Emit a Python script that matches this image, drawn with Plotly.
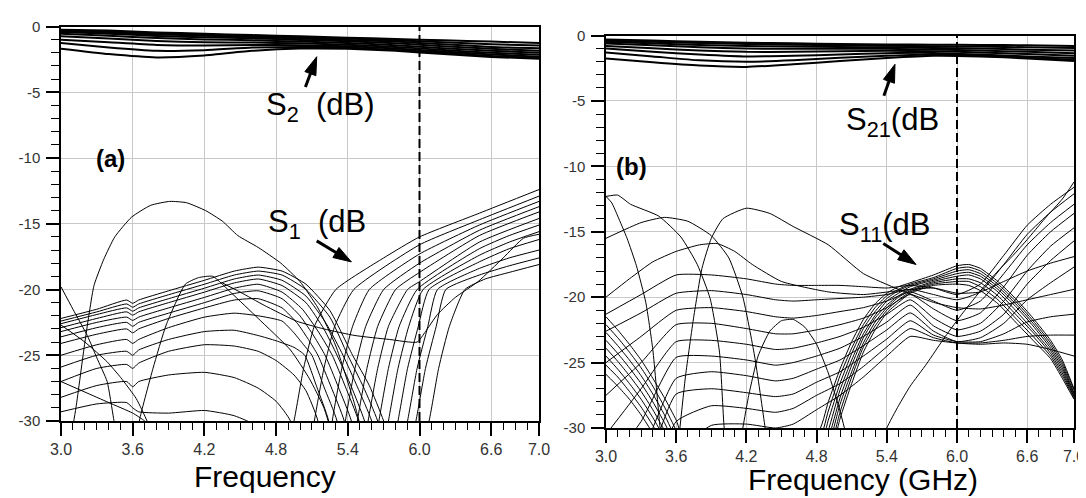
import plotly.graph_objects as go

W, H = 1086, 498

# ---------------- tick labels ----------------
X_TICKS = [3.0, 3.6, 4.2, 4.8, 5.4, 6.0, 6.6, 7.0]
X_TICK_TEXT = ["3.0", "3.6", "4.2", "4.8", "5.4", "6.0", "6.6", "7.0"]
Y_TICKS = [0, -5, -10, -15, -20, -25, -30]
Y_TICK_TEXT = ["0", "-5", "-10", "-15", "-20", "-25", "-30"]

# ---------------- S21 bundles ----------------
S21_FREQ = [3.0, 3.4, 3.8, 4.2, 4.6, 5.0, 5.4, 5.8, 6.2, 6.6, 7.0]
A_S21 = [
    [-0.24, -0.3, -0.45, -0.55, -0.65, -0.75, -0.85, -0.95, -1.05, -1.15, -1.25],
    [-0.3, -0.38, -0.52, -0.62, -0.72, -0.82, -0.92, -1.05, -1.2, -1.35, -1.45],
    [-0.36, -0.45, -0.6, -0.7, -0.8, -0.92, -1.02, -1.15, -1.35, -1.55, -1.65],
    [-0.42, -0.55, -0.72, -0.82, -0.9, -1.02, -1.12, -1.28, -1.5, -1.7, -1.85],
    [-0.55, -0.7, -0.88, -0.98, -1.05, -1.15, -1.25, -1.42, -1.65, -1.85, -2.0],
    [-0.75, -0.92, -1.1, -1.2, -1.22, -1.28, -1.38, -1.55, -1.78, -2.0, -2.15],
    [-1.0, -1.2, -1.4, -1.45, -1.4, -1.42, -1.5, -1.68, -1.9, -2.12, -2.3],
    [-1.25, -1.6, -1.85, -1.8, -1.6, -1.55, -1.6, -1.78, -2.0, -2.25, -2.4],
    [-1.69, -2.1, -2.35, -2.2, -1.85, -1.68, -1.7, -1.85, -2.1, -2.32, -2.45],
]
B_S21 = [
    [-0.3, -0.38, -0.48, -0.55, -0.6, -0.65, -0.68, -0.7, -0.72, -0.75, -0.8],
    [-0.4, -0.48, -0.58, -0.65, -0.7, -0.75, -0.78, -0.82, -0.85, -0.9, -0.95],
    [-0.5, -0.6, -0.72, -0.8, -0.85, -0.88, -0.9, -0.95, -1.0, -1.08, -1.15],
    [-0.62, -0.75, -0.9, -1.0, -1.02, -1.02, -1.02, -1.07, -1.15, -1.25, -1.35],
    [-0.8, -0.98, -1.15, -1.25, -1.25, -1.2, -1.17, -1.2, -1.3, -1.42, -1.55],
    [-1.0, -1.25, -1.45, -1.6, -1.55, -1.45, -1.35, -1.33, -1.45, -1.6, -1.72],
    [-1.3, -1.6, -1.9, -2.0, -1.9, -1.7, -1.55, -1.45, -1.55, -1.7, -1.85],
    [-1.75, -2.05, -2.3, -2.4, -2.2, -1.95, -1.72, -1.55, -1.6, -1.75, -1.95],
]

# ---------------- panel (a) S11 family ----------------
A_FAM_LEFT_F = [3.0, 3.3, 3.55, 3.6, 3.65, 3.9, 4.2, 4.45, 4.65]
A_FAM_LEFT_V = [
    [-22.2, -21.5, -20.8, -21.05, -20.8, -20.1, -19.3, -18.6, -18.3],
    [-22.4, -21.7, -21.1, -21.35, -21.1, -20.4, -19.6, -18.9, -18.6],
    [-22.6, -21.9, -21.4, -21.65, -21.4, -20.7, -19.9, -19.2, -18.9],
    [-22.9, -22.2, -21.7, -21.95, -21.7, -21.0, -20.2, -19.5, -19.2],
    [-23.2, -22.5, -22.1, -22.35, -22.1, -21.4, -20.6, -19.9, -19.6],
    [-23.6, -22.9, -22.5, -22.8, -22.5, -21.8, -21.0, -20.3, -20.1],
    [-24.1, -23.4, -23.0, -23.3, -23.0, -22.2, -21.4, -20.8, -20.7],
    [-25.0, -24.2, -23.8, -24.1, -23.8, -22.9, -22.1, -21.8, -22.0],
    [-25.9, -25.0, -24.7, -25.0, -24.6, -23.8, -23.2, -23.1, -23.5],
    [-27.0, -26.0, -25.7, -26.0, -25.6, -24.7, -24.2, -24.3, -24.7],
    [-28.2, -27.3, -27.0, -27.4, -27.0, -26.5, -26.3, -26.7, -27.5],
    [-29.3, -28.7, -28.6, -29.0, -29.3, -29.4, -29.2, -29.6, -30.5],
]
A_FAM_RIGHT_F = [
    [4.85, 5.05, 5.25, 5.44, 5.58, 5.7, 5.9, 6.08, 6.16, 6.25, 6.38, 6.55, 6.75, 7.0],
    [4.85, 5.05, 5.25, 5.4, 5.53, 5.65, 5.82, 5.97, 6.05, 6.14, 6.22, 6.5, 6.75, 7.0],
    [4.85, 5.05, 5.22, 5.36, 5.48, 5.6, 5.76, 5.9, 5.98, 6.07, 6.15, 6.5, 6.75, 7.0],
    [4.85, 5.05, 5.2, 5.31, 5.43, 5.54, 5.69, 5.82, 5.9, 5.99, 6.08, 6.5, 6.75, 7.0],
    [4.85, 5.02, 5.16, 5.27, 5.38, 5.49, 5.62, 5.74, 5.82, 5.91, 6.03, 6.5, 6.75, 7.0],
    [4.85, 5.0, 5.12, 5.21, 5.32, 5.43, 5.55, 5.66, 5.74, 5.83, 5.98, 6.5, 6.75, 7.0],
    [4.85, 4.98, 5.07, 5.15, 5.26, 5.37, 5.47, 5.57, 5.65, 5.74, 5.9, 6.0, 6.5, 7.0],
    [4.85, 4.95, 5.03, 5.1, 5.2, 5.31, 5.4, 5.48, 5.56, 5.65, 5.8, 6.0, 6.5, 7.0],
    [4.8, 4.95, 5.04, 5.14, 5.24, 5.31, 5.38, 5.46, 5.55, 5.7, 6.0, 6.5, 7.0],
    [4.8, 4.95, 5.05, 5.15, 5.21, 5.27, 5.35, 5.44, 5.58, 6.0, 6.5, 7.0],
    [4.8, 4.92, 5.02, 5.12, 5.2, 5.29, 5.45, 6.0, 6.5, 7.0],
    [4.8, 4.95, 5.03, 5.12, 5.3, 5.7, 6.0, 6.5, 7.0],
]
A_FAM_RIGHT_V = [
    [-18.6, -19.6, -21.6, -25.0, -27.3, -30.0, -36.0, -30.0, -26.0, -22.8, -20.0, -19.2, -18.7, -18.1],
    [-18.9, -20.0, -22.1, -25.0, -27.4, -30.0, -36.0, -30.0, -26.0, -22.8, -20.0, -18.9, -18.2, -17.6],
    [-19.3, -20.5, -22.6, -25.0, -27.4, -30.0, -36.0, -30.0, -26.0, -22.8, -20.0, -18.4, -17.6, -17.0],
    [-19.7, -21.0, -23.0, -25.0, -27.4, -30.0, -36.0, -30.0, -26.0, -22.8, -20.0, -17.9, -16.9, -16.2],
    [-20.2, -21.5, -23.3, -25.0, -27.4, -30.0, -36.0, -30.0, -26.0, -22.8, -20.0, -17.4, -16.4, -15.6],
    [-20.7, -22.0, -23.6, -25.0, -27.4, -30.0, -36.0, -30.0, -26.0, -22.8, -20.0, -16.9, -15.9, -15.1],
    [-21.4, -22.6, -23.8, -25.0, -27.4, -30.0, -36.0, -30.0, -26.0, -22.8, -20.0, -19.4, -16.4, -14.6],
    [-22.4, -23.3, -24.2, -25.0, -27.4, -30.0, -36.0, -30.0, -26.0, -22.8, -20.0, -18.7, -15.9, -14.1],
    [-23.9, -24.4, -25.0, -27.4, -30.0, -36.0, -30.0, -26.0, -22.8, -20.0, -18.0, -15.5, -13.7],
    [-25.4, -26.5, -27.7, -30.0, -36.0, -30.0, -26.0, -22.8, -20.0, -17.3, -15.1, -13.3],
    [-28.5, -30.0, -36.0, -30.0, -26.0, -22.8, -20.0, -16.6, -14.7, -12.9],
    [-36.0, -30.0, -26.0, -22.8, -20.0, -17.6, -16.0, -14.2, -12.4],
]

# other panel (a) S11 traces
A_ARC1_F = [3.05, 3.125, 3.2, 3.276, 3.358, 3.45, 3.59, 3.75, 3.91, 4.05, 4.21, 4.35, 4.48, 4.65, 4.84, 5.0, 5.15, 5.3, 5.45, 5.55]
A_ARC1_V = [-33.0, -29.0, -24.0, -19.7, -17.7, -16.0, -14.5, -13.6, -13.3, -13.4, -14.0, -14.8, -15.9, -16.8, -18.0, -19.4, -21.4, -24.3, -28.5, -32.0]
A_ARC2_F = [3.62, 3.66, 3.77, 3.88, 4.04, 4.15, 4.27, 4.43, 4.65, 4.92, 5.08, 5.2, 5.3]
A_ARC2_V = [-32.0, -29.8, -26.0, -22.7, -19.6, -19.1, -19.0, -20.3, -22.2, -24.6, -26.8, -29.0, -32.0]
A_D_F = [3.0, 3.1, 3.22, 3.3, 3.386, 3.44, 3.5]
A_D_V = [-19.8, -21.5, -23.5, -25.2, -27.0, -29.8, -33.0]
A_E_F = [3.0, 3.2, 3.386, 3.5, 3.63, 3.72, 3.8]
A_E_V = [-22.7, -24.0, -25.5, -26.7, -28.3, -30.0, -32.0]
A_G_F = [4.35, 4.5, 4.7, 4.97, 5.2, 5.46, 5.75, 5.98, 6.05, 6.15, 6.3, 6.49, 6.7, 6.87, 7.0]
A_G_V = [-19.5, -20.2, -21.2, -22.4, -23.0, -23.5, -23.8, -24.0, -23.2, -21.9, -20.6, -19.4, -17.6, -16.1, -15.8]
A_H_F = [3.0, 3.2, 3.4, 3.6, 3.7, 3.8]
A_H_V = [-27.0, -27.8, -28.6, -29.4, -30.0, -31.0]

# ---------------- panel (b) S11 ----------------
B_P_LEFT_F = [3.0, 3.1, 3.2, 3.3, 3.4, 3.5, 3.6, 3.7]
B_P_LEFT_V = [
    [-21.5, -22.5, -23.6, -24.8, -26.2, -27.7, -29.4, -31.5],
    [-22.1, -23.1, -24.2, -25.4, -26.8, -28.4, -30.2, -32.5],
    [-22.7, -23.7, -24.8, -26.0, -27.4, -29.0, -30.9, -33.0],
    [-23.3, -24.3, -25.4, -26.6, -28.0, -29.6, -31.5, -33.5],
    [-23.9, -24.9, -26.0, -27.2, -28.6, -30.2, -32.1, -34.0],
    [-24.5, -25.5, -26.6, -27.8, -29.2, -30.8, -32.7, -34.5],
    [-25.2, -26.1, -27.2, -28.4, -29.8, -31.4, -33.3, -35.0],
    [-25.9, -26.8, -27.8, -29.0, -30.4, -32.0, -33.9, -35.5],
]
B_P_RIGHT_F = [4.8, 4.9, 5.0, 5.1, 5.2, 5.3, 5.4, 5.5, 5.6, 5.8, 6.0, 6.1, 6.2, 6.35, 6.5, 6.65, 6.8, 6.9, 7.0]
B_P_RIGHT_V = [
    [-30.5, -28.0, -25.5, -23.4, -21.7, -20.5, -19.7, -19.2, -18.9, -18.3, -17.6, -17.5, -17.8, -18.8, -20.1, -21.6, -23.3, -24.8, -27.0],
    [-31.3, -28.7, -26.0, -23.9, -22.1, -20.8, -19.9, -19.4, -19.0, -18.5, -17.8, -17.7, -18.0, -19.0, -20.3, -21.8, -23.5, -25.0, -27.1],
    [-32.1, -29.4, -26.6, -24.3, -22.4, -21.1, -20.1, -19.5, -19.1, -18.6, -18.0, -17.9, -18.2, -19.2, -20.5, -22.0, -23.7, -25.2, -27.3],
    [-32.9, -30.2, -27.1, -24.8, -22.8, -21.4, -20.3, -19.7, -19.2, -18.7, -18.2, -18.1, -18.4, -19.4, -20.7, -22.2, -23.9, -25.4, -27.4],
    [-33.6, -30.9, -27.7, -25.2, -23.1, -21.6, -20.6, -19.9, -19.4, -18.8, -18.4, -18.3, -18.6, -19.6, -21.0, -22.5, -24.1, -25.6, -27.5],
    [-34.4, -31.6, -28.2, -25.7, -23.5, -21.9, -20.8, -20.0, -19.5, -18.9, -18.6, -18.6, -18.9, -19.9, -21.3, -22.7, -24.3, -25.8, -27.6],
    [-35.2, -32.3, -28.8, -26.1, -23.8, -22.2, -21.0, -20.2, -19.6, -19.0, -18.8, -18.8, -19.2, -20.2, -21.6, -23.0, -24.5, -26.0, -27.7],
    [-36.0, -33.0, -29.3, -26.6, -24.2, -22.5, -21.2, -20.4, -19.7, -19.1, -19.0, -19.1, -19.5, -20.5, -21.9, -23.3, -24.7, -26.2, -27.8],
]
B_W_F = [3.0, 3.3, 3.6, 3.9, 4.2, 4.45, 4.6, 4.8, 5.0, 5.2, 5.4, 5.6, 5.8, 6.0, 6.2, 6.4, 6.6, 6.8, 7.0]
B_W_V = [
    [-21.3, -19.8, -18.3, -18.3, -18.6, -19.0, -19.1, -19.1, -19.1, -19.2, -19.3, -19.1, -19.3, -19.8, -19.0, -16.8, -14.5, -12.9, -11.6],
    [-22.6, -21.2, -19.7, -19.5, -19.8, -20.2, -20.3, -20.2, -20.1, -20.0, -19.8, -19.4, -19.8, -20.2, -19.6, -17.5, -15.2, -13.5, -12.1],
    [-25.0, -23.0, -21.0, -20.8, -21.1, -21.5, -21.6, -21.4, -21.1, -20.8, -20.3, -19.6, -20.3, -21.0, -20.3, -18.2, -16.0, -14.3, -12.9],
    [-27.5, -25.0, -22.1, -22.0, -22.4, -22.8, -22.8, -22.5, -22.1, -21.6, -20.8, -19.8, -20.9, -21.8, -21.2, -19.2, -16.8, -15.0, -13.6],
    [-30.5, -27.0, -23.4, -23.3, -23.6, -24.0, -23.9, -23.5, -23.0, -22.3, -21.3, -20.2, -21.6, -22.5, -22.0, -20.3, -18.0, -16.1, -14.7],
    [-33.0, -29.5, -24.6, -24.5, -24.8, -25.2, -25.0, -24.5, -23.9, -23.0, -21.9, -20.6, -22.2, -23.0, -22.6, -21.3, -19.0, -17.2, -15.7],
    [-35.0, -32.0, -26.2, -25.7, -26.0, -26.4, -26.2, -25.5, -24.8, -23.7, -22.5, -21.2, -22.6, -23.4, -23.1, -22.0, -20.2, -18.9, -17.7],
    [-37.0, -34.0, -27.4, -27.0, -27.3, -27.6, -27.4, -26.5, -25.7, -24.5, -23.2, -21.8, -22.9, -23.4, -23.4, -22.8, -21.9, -21.5, -21.3],
    [-38.0, -36.0, -29.5, -28.3, -28.5, -28.8, -28.5, -27.5, -26.6, -25.3, -23.8, -22.4, -23.1, -23.5, -23.6, -23.5, -23.6, -24.0, -24.5],
    [-40.0, -38.0, -32.0, -29.8, -29.7, -30.0, -29.7, -28.6, -27.5, -26.1, -24.5, -23.0, -23.3, -23.5, -23.5, -23.3, -23.0, -22.9, -22.9],
]
B_T1_F = [3.0, 3.05, 3.1, 3.18, 3.26, 3.34, 3.4, 3.46, 3.5]
B_T1_V = [-12.3, -12.8, -13.8, -15.5, -17.6, -20.4, -24.0, -29.8, -33.0]
B_T2_F = [3.0, 3.1, 3.21, 3.45, 3.64, 3.78, 3.89, 3.97, 4.01, 4.05]
B_T2_V = [-12.3, -12.2, -12.9, -13.8, -15.4, -17.5, -20.1, -24.2, -30.0, -33.0]
B_T3_F = [3.0, 3.3, 3.5, 3.7, 3.9, 4.05, 4.17, 4.27, 4.36, 4.4]
B_T3_V = [-15.5, -14.3, -13.9, -14.2, -15.3, -17.0, -20.0, -24.5, -30.0, -33.0]
B_T4_F = [3.62, 3.68, 3.75, 3.82, 3.9, 4.0, 4.2, 4.4, 4.6, 4.9, 5.2, 5.5, 5.8, 6.0, 6.2, 6.4, 6.6, 6.8, 7.0]
B_T4_V = [-31.0, -26.0, -21.5, -17.8, -15.5, -14.0, -13.2, -13.6, -14.6, -16.0, -18.2, -19.4, -20.4, -20.8, -20.9, -20.6, -20.2, -19.8, -19.4]
B_T5_F = [3.0, 3.2, 3.4, 3.6, 3.8, 3.95, 4.1, 4.25, 4.5, 4.9, 5.2, 5.5, 5.8, 6.0, 6.2, 6.4, 6.6, 6.8, 7.0]
B_T5_V = [-20.0, -18.6, -17.3, -16.5, -16.0, -15.9, -16.5, -17.5, -18.8, -19.6, -19.8, -19.5, -19.3, -19.7, -19.6, -18.8, -18.0, -17.4, -16.9]
B_T6_F = [4.15, 4.22, 4.3, 4.4, 4.5, 4.6, 4.7, 4.8, 4.9, 5.0, 5.08]
B_T6_V = [-31.0, -27.5, -24.5, -22.6, -21.8, -21.7, -22.3, -23.6, -25.8, -28.7, -31.5]
B_R_F = [5.35, 5.4, 5.5, 5.6, 5.74, 5.9, 6.05, 6.22, 6.35, 6.48, 6.6, 6.75, 6.9, 7.0]
B_R_V = [-31.5, -30.0, -28.3, -26.8, -25.1, -23.0, -21.2, -19.3, -18.0, -16.8, -15.6, -14.0, -12.5, -11.2]

MARKER_FREQ = 6.0

# label arrows: (tail f, tail dB, head f, head dB)
A_S21_ARROW = (5.045, -4.6, 5.14, -2.3)
A_S11_ARROW = (5.14, -16.3, 5.43, -17.9)
B_S21_ARROW = (5.375, -4.6, 5.47, -2.2)
B_S11_ARROW = (5.37, -15.9, 5.65, -17.5)

# ---------------- figure ----------------
fig = go.Figure()


def add_line(f, v, xa, ya, width=1.0):
    fig.add_trace(go.Scatter(
        x=f, y=v, mode="lines", xaxis=xa, yaxis=ya,
        line=dict(color="black", width=width, shape="spline", smoothing=0.5),
        hoverinfo="skip", showlegend=False,
    ))


# panel (a)
for v in A_S21:
    add_line(S21_FREQ, v, "x", "y", 2.0)
for lv, rf, rv in zip(A_FAM_LEFT_V, A_FAM_RIGHT_F, A_FAM_RIGHT_V):
    add_line(A_FAM_LEFT_F + rf, lv + rv, "x", "y")
for f, v in [(A_ARC1_F, A_ARC1_V), (A_ARC2_F, A_ARC2_V), (A_D_F, A_D_V),
             (A_E_F, A_E_V), (A_G_F, A_G_V), (A_H_F, A_H_V)]:
    add_line(f, v, "x", "y")

# panel (b)
for v in B_S21:
    add_line(S21_FREQ, v, "x2", "y2", 2.0)
for lv, rv in zip(B_P_LEFT_V, B_P_RIGHT_V):
    add_line(B_P_LEFT_F + B_P_RIGHT_F, lv + rv, "x2", "y2")
for v in B_W_V:
    add_line(B_W_F, v, "x2", "y2")
for f, v in [(B_T1_F, B_T1_V), (B_T2_F, B_T2_V), (B_T3_F, B_T3_V), (B_T4_F, B_T4_V),
             (B_T5_F, B_T5_V), (B_T6_F, B_T6_V), (B_R_F, B_R_V)]:
    add_line(f, v, "x2", "y2")


def add_arrow(spec, xa, ya):
    x0, y0, x1, y1 = spec
    fig.add_trace(go.Scatter(
        x=[x0, x1], y=[y0, y1], mode="lines+markers", xaxis=xa, yaxis=ya,
        line=dict(color="black", width=3),
        marker=dict(symbol="arrow", size=[0, 19], angleref="previous", color="black",
                    opacity=1, line=dict(color="black", width=1)),
        hoverinfo="skip", showlegend=False, cliponaxis=False,
    ))


add_arrow(A_S21_ARROW, "x", "y")
add_arrow(A_S11_ARROW, "x", "y")
add_arrow(B_S21_ARROW, "x2", "y2")
add_arrow(B_S11_ARROW, "x2", "y2")

FONT = "Arial, Liberation Sans, sans-serif"


def xaxis(domain, anchor):
    return dict(
        domain=domain, range=[3, 7], anchor=anchor, automargin=False,
        tickmode="array", tickvals=X_TICKS, ticktext=X_TICK_TEXT,
        ticks="outside", ticklen=13, tickwidth=1.5, tickcolor="black",
        minor=dict(tickmode="linear", tick0=3.0, dtick=0.1, ticks="outside",
                   ticklen=7, tickwidth=1.2, tickcolor="black", showgrid=False),
        showgrid=True, gridcolor="#c8c8c8", gridwidth=1,
        showline=True, linecolor="black", linewidth=1.5, mirror=True,
        zeroline=False, fixedrange=True,
        tickfont=dict(family=FONT, size=16, color="#333"),
    )


def yaxis(domain, anchor):
    return dict(
        domain=domain, range=[-30, 0], anchor=anchor, automargin=False,
        tickmode="array", tickvals=Y_TICKS, ticktext=Y_TICK_TEXT,
        ticks="outside", ticklen=13, tickwidth=1.5, tickcolor="black",
        minor=dict(tickmode="linear", tick0=0, dtick=1, ticks="outside",
                   ticklen=8, tickwidth=1.2, tickcolor="black", showgrid=False),
        showgrid=True, gridcolor="#c8c8c8", gridwidth=1,
        showline=True, linecolor="black", linewidth=1.5, mirror=True,
        zeroline=False, fixedrange=True, ticklabelstandoff=3,
        tickfont=dict(family=FONT, size=15, color="#333"),
    )


fig.update_layout(
    width=W, height=H,
    margin=dict(l=0, r=0, t=0, b=0, autoexpand=False),
    paper_bgcolor="white", plot_bgcolor="white",
    showlegend=False, hovermode=False,
    xaxis=xaxis([53 / W, 531 / W], "y"),
    yaxis=yaxis([1 - 413 / H, 1 - 18.5 / H], "x"),
    xaxis2=xaxis([598 / W, 1066 / W], "y2"),
    yaxis2=yaxis([1 - 420 / H, 1 - 27.5 / H], "x2"),
)

# dashed markers at 6 GHz
for xr, yr in [("x", "y domain"), ("x2", "y2 domain")]:
    fig.add_shape(type="line", xref=xr, yref=yr, x0=MARKER_FREQ, x1=MARKER_FREQ, y0=0, y1=1,
                  line=dict(color="black", width=2, dash="9px,4px"), layer="above")

big = dict(family=FONT, size=31, color="black")
lab = dict(family=FONT, size=24, color="black")


def text(x, y, s, xr, yr, font):
    fig.add_annotation(x=x, y=y, xref=xr, yref=yr, text=s, showarrow=False,
                       font=font, xanchor="center", yanchor="middle")


# panel (a) labels
text(3.41, -10.0, "<b>(a)</b>", "x", "y", lab)
text(5.17, -6.1, "S<sub>2</sub>  (dB)", "x", "y", big)
text(5.14, -15.0, "S<sub>1</sub>  (dB", "x", "y", big)

# panel (b) labels
text(3.22, -10.0, "<b>(b)</b>", "x2", "y2", lab)
text(5.45, -6.6, "S<sub>21</sub>(dB", "x2", "y2", big)
text(5.38, -14.6, "S<sub>11</sub>(dB", "x2", "y2", big)

# axis titles
title_font = dict(family=FONT, size=30, color="black")
fig.add_annotation(x=257 / W, y=1 - 468 / H, xref="paper", yref="paper", text="Frequency",
                   showarrow=False, font=title_font, xanchor="center", yanchor="middle")
fig.add_annotation(x=855 / W, y=1 - 471 / H, xref="paper", yref="paper", text="Frequency (GHz)",
                   showarrow=False, font=title_font, xanchor="center", yanchor="middle")

fig.write_html("out.html")
